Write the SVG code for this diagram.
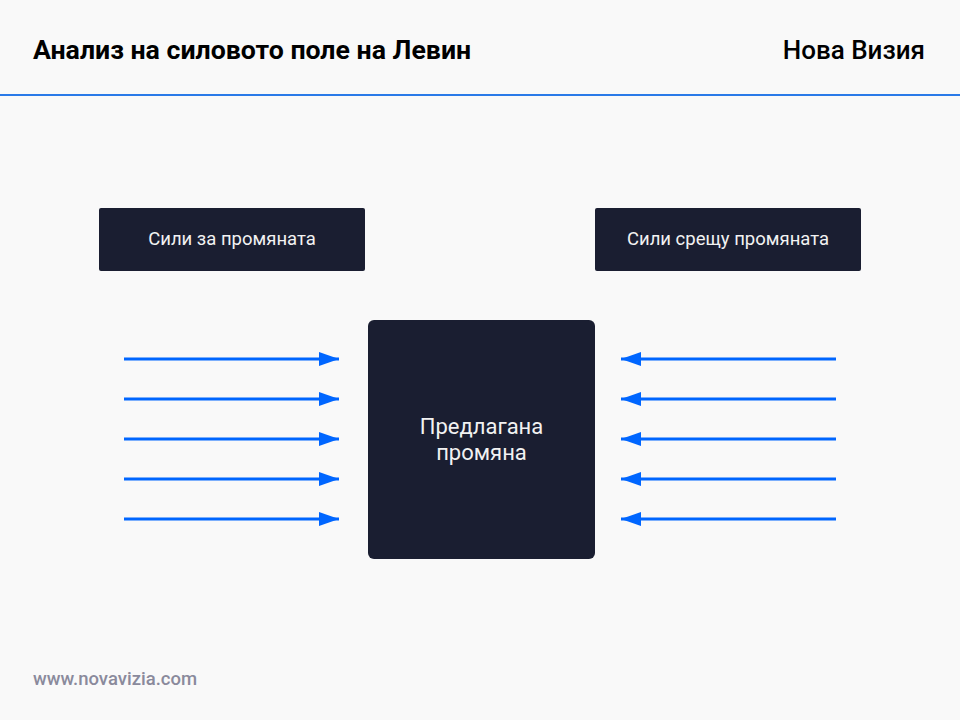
<svg xmlns="http://www.w3.org/2000/svg" width="960" height="720" viewBox="0 0 960 720">
<defs>
<style>
.t{font-family:Roboto,"Liberation Sans",sans-serif}
.box{fill:#1a1e31}
.lbl{font-family:Roboto,"Liberation Sans",sans-serif;font-size:18.5px;fill:#f2f2f2;text-anchor:middle}
.big{font-size:22px}
.ar{stroke:#0066ff;stroke-width:3;fill:none}
</style>
<marker id="ah" viewBox="0 0 20 14" refX="20" refY="7" markerWidth="20" markerHeight="14" markerUnits="userSpaceOnUse" orient="auto">
<path d="M0,0 L20,7 L0,14 Z" fill="#0066ff"/>
</marker>
</defs>
<rect width="960" height="720" fill="#f9f9f9"/>
<text class="t" x="33" y="59" font-size="26.7" font-weight="bold" fill="#000">Анализ на силовото поле на Левин</text>
<text class="t" x="925" y="59" font-size="26" font-weight="500" fill="#000" text-anchor="end">Нова Визия</text>
<rect x="0" y="94" width="960" height="2" fill="#2a7ae8"/>
<g id="forces-for">
<rect class="box" x="99" y="208" width="266" height="63" rx="2"/>
<text class="lbl" x="232" y="245">Сили за промяната</text>
</g>
<g id="forces-against">
<rect class="box" x="595" y="208" width="266" height="63" rx="2"/>
<text class="lbl" x="728" y="245">Сили срещу промяната</text>
</g>
<g id="change">
<rect class="box" x="368" y="320" width="227" height="239" rx="6"/>
<text class="lbl big" x="481.5" y="434">Предлагана</text>
<text class="lbl big" x="481.5" y="460">промяна</text>
</g>
<g id="connectors">
<line class="ar" x1="124" y1="359" x2="339" y2="359" marker-end="url(#ah)"/>
<line class="ar" x1="124" y1="399" x2="339" y2="399" marker-end="url(#ah)"/>
<line class="ar" x1="124" y1="439" x2="339" y2="439" marker-end="url(#ah)"/>
<line class="ar" x1="124" y1="479" x2="339" y2="479" marker-end="url(#ah)"/>
<line class="ar" x1="124" y1="519" x2="339" y2="519" marker-end="url(#ah)"/>
<line class="ar" x1="836" y1="359" x2="621" y2="359" marker-end="url(#ah)"/>
<line class="ar" x1="836" y1="399" x2="621" y2="399" marker-end="url(#ah)"/>
<line class="ar" x1="836" y1="439" x2="621" y2="439" marker-end="url(#ah)"/>
<line class="ar" x1="836" y1="479" x2="621" y2="479" marker-end="url(#ah)"/>
<line class="ar" x1="836" y1="519" x2="621" y2="519" marker-end="url(#ah)"/>
</g>
<text class="t" x="33" y="685" font-size="18.5" font-weight="500" fill="#8a8a9c">www.novavizia.com</text>
</svg>
